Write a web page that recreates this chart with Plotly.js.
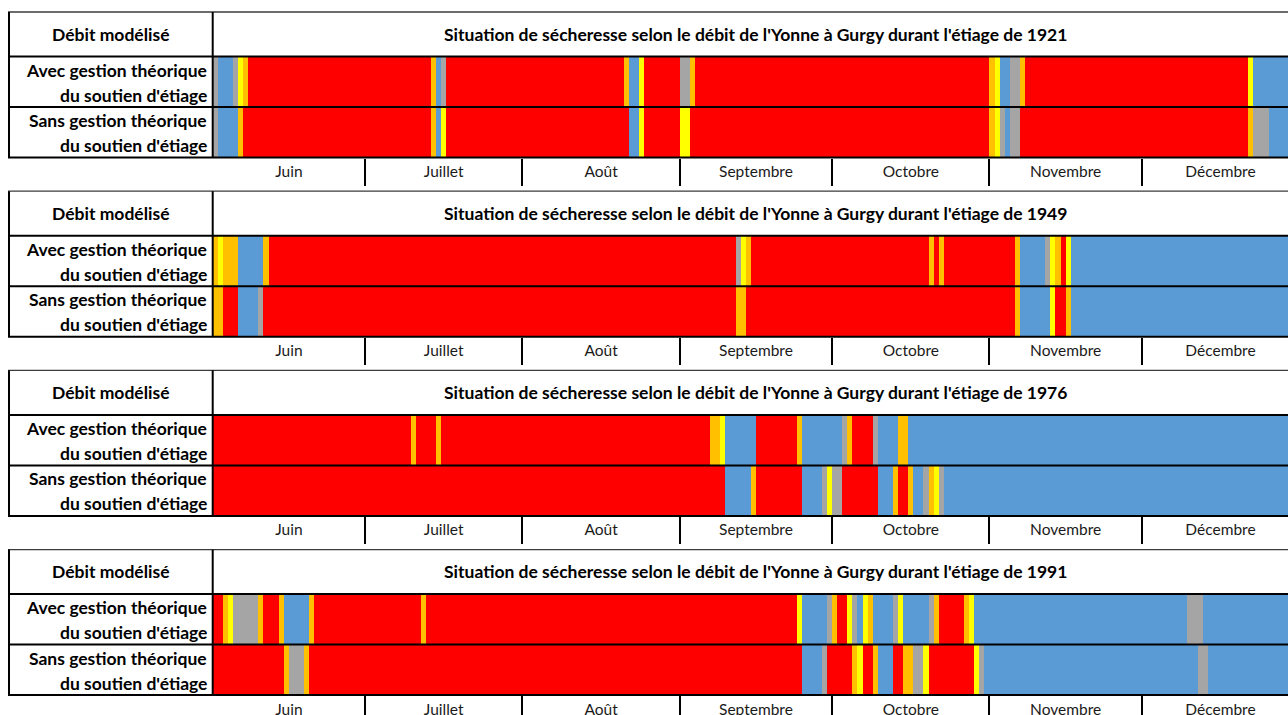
<!DOCTYPE html>
<html><head><meta charset="utf-8">
<script src="https://cdn.plot.ly/plotly-3.0.1.min.js"></script>
<style>html,body{margin:0;padding:0;background:#fff;overflow:hidden}#chart{width:1288px;height:715px}</style>
</head><body><div id="chart"></div>
<script>
// Months (June 1 → December 31) and their lengths in days
const months = ['Juin','Juillet','Août','Septembre','Octobre','Novembre','Décembre'];
const monthDays = [30,31,31,30,31,30,31];
const years = ['1921','1949','1976','1991'];
const headerLeft = 'Débit modélisé';
const titlePrefix = "Situation de sécheresse selon le débit de l'Yonne à Gurgy durant l'étiage de ";
const rowLine1 = ['Avec gestion théorique','Sans gestion théorique'];
const rowLine2 = ["du soutien d'étiage","du soutien d'étiage"];

// Daily drought states as runs: R crise, O alerte renforcée, Y alerte, G vigilance, B normal
const s1921Avec = ['G','B','G','Y','O','R','O','B','G','R','O','B','Y','R','G','O','R','O','Y','B','G','O','R','Y','B'];
const d1921Avec = [1,3,1,1,1,36,1,1,1,35,1,2,1,7,2,1,58,1,1,2,2,1,44,1,9];
const s1921Sans = ['G','B','O','R','O','B','Y','R','B','Y','R','Y','R','O','Y','G','B','G','R','O','G','B'];
const d1921Sans = [1,4,1,37,1,1,1,36,2,1,7,2,59,1,1,1,1,2,45,1,3,6];

const s1949Avec = ['O','Y','O','B','O','R','G','Y','O','R','O','R','O','R','O','B','G','Y','O','R','Y','B'];
const d1949Avec = [1,1,3,5,1,92,1,1,1,35,1,1,1,14,1,5,1,1,1,1,1,45];
const s1949Sans = ['O','R','B','G','R','O','R','O','B','Y','R','O','B'];
const d1949Sans = [2,3,4,1,93,2,53,1,6,1,2,1,45];

const s1976Avec = ['R','O','R','O','R','O','Y','B','R','O','B','G','O','R','G','B','O','B'];
const d1976Avec = [39,1,4,1,53,2,1,6,8,1,8,1,1,4,1,4,2,77];
const s1976Sans = ['R','B','O','R','B','G','Y','G','R','B','O','R','O','B','G','O','Y','G','B'];
const d1976Sans = [101,5,1,9,4,1,1,2,7,3,1,2,1,2,1,1,1,1,70];

const s1991Avec = ['R','O','Y','G','O','R','O','B','O','R','O','R','Y','B','G','O','R','Y','G','B','Y','O','B','G','Y','B','G','O','R','O','Y','B','G','B'];
const d1991Avec = [2,1,1,5,1,3,1,5,1,21,1,73,1,5,1,1,2,1,1,1,1,1,4,1,1,5,1,1,5,1,1,42,3,19];
const s1991Sans = ['R','O','G','O','R','B','G','R','O','Y','R','O','B','R','O','G','Y','R','Y','G','B','G','B'];
const d1991Sans = [14,1,3,1,97,4,1,5,1,1,2,1,3,2,2,2,1,9,1,1,42,2,18];

const panels = [
  [[s1921Avec,d1921Avec],[s1921Sans,d1921Sans]],
  [[s1949Avec,d1949Avec],[s1949Sans,d1949Sans]],
  [[s1976Avec,d1976Avec],[s1976Sans,d1976Sans]],
  [[s1991Avec,d1991Avec],[s1991Sans,d1991Sans]]
];

const COLORS = {R:'#FF0000', O:'#FFC000', Y:'#FFFF00', G:'#A5A5A5', B:'#5B9BD5'};

// ---- layout geometry (pixels) ----
const W = 1288, H = 715;
const leftX = 9, colX = 212.7, pxPerDay = 5.077;
const panelTop0 = 12, panelStep = 179.2;
const hdrH = 44.5, rowH = 50.5;
const px = v => v / W, py = v => 1 - v / H;
const xMax = (W - colX) / pxPerDay;
const fullCenterX = colX + (monthDays.reduce((a,b)=>a+b,0) * pxPerDay) / 2;

// month boundaries & centers from month lengths
const bounds = []; const centers = [];
let acc = 0;
monthDays.forEach((d,i) => { centers.push(acc + d/2); acc += d; if (i < monthDays.length-1) bounds.push(acc); });

const traces = [];
const layout = {
  width: W, height: H, margin:{l:0,r:0,t:0,b:0},
  paper_bgcolor:'#fff', plot_bgcolor:'#fff',
  barmode:'overlay', bargap:0, showlegend:false,
  font:{family:'Lato, "Open Sans", sans-serif', color:'#000'},
  shapes:[], annotations:[]
};

panels.forEach((rows, p) => {
  const T = panelTop0 + p * panelStep;
  const sfx = p === 0 ? '' : String(p + 1);
  rows.forEach(([states, durs], r) => {
    const base = []; let c = 0;
    durs.forEach(d => { base.push(c); c += d; });
    traces.push({
      type:'bar', orientation:'h',
      x: durs, base: base, y: durs.map(() => 1 - r), width: 1,
      marker:{color: states.map(s => COLORS[s]), line:{width:0}},
      xaxis:'x' + sfx, yaxis:'y' + sfx, hoverinfo:'skip'
    });
  });
  layout['xaxis' + sfx] = {
    domain:[px(colX), 1], range:[0, xMax], anchor:'y' + sfx,
    showgrid:false, zeroline:false, showline:false, fixedrange:true,
    tickmode:'array', tickvals: centers, ticktext: months, ticks:'',
    tickfont:{size:15.5, color:'#1a1a1a', family:'Lato, sans-serif'},
    ticklabelstandoff: 3,
    minor:{tickmode:'array', tickvals: bounds, ticks:'outside', ticklen:27, tickwidth:2, tickcolor:'#000', showgrid:false}
  };
  layout['yaxis' + sfx] = {
    domain:[py(T + hdrH + 2*rowH), py(T + hdrH)], range:[-0.5, 1.5], anchor:'x' + sfx,
    showgrid:false, zeroline:false, showline:false, showticklabels:false, ticks:'', fixedrange:true
  };
  // table lines
  const hl = (y, w, col) => layout.shapes.push({type:'line', xref:'paper', yref:'paper', x0:px(leftX-1), x1:1, y0:py(y), y1:py(y), line:{color:col, width:w}});
  const vl = (x) => layout.shapes.push({type:'line', xref:'paper', yref:'paper', x0:px(x), x1:px(x), y0:py(T), y1:py(T + hdrH + 2*rowH), line:{color:'#000', width:2}});
  hl(T, 1.3, '#3a3a3a');
  hl(T + hdrH, 2, '#000');
  hl(T + hdrH + rowH, 2, '#000');
  hl(T + hdrH + 2*rowH, 2, '#000');
  vl(leftX); vl(colX);
  // texts
  const bold = {family:'Lato, sans-serif', size:17.5, color:'#000', weight:'bold'};
  layout.annotations.push({xref:'paper', yref:'paper', x:px((leftX+colX)/2), y:py(T + hdrH/2), text:'<b>' + headerLeft + '</b>', showarrow:false, xanchor:'center', yanchor:'middle', font:bold});
  layout.annotations.push({xref:'paper', yref:'paper', x:px(fullCenterX), y:py(T + hdrH/2), text:'<b>' + titlePrefix + years[p] + '</b>', showarrow:false, xanchor:'center', yanchor:'middle', font:bold});
  [0,1].forEach(r => {
    const top = T + hdrH + r*rowH;
    layout.annotations.push({xref:'paper', yref:'paper', x:px(209), y:py(top + 13.5), text:'<b>' + rowLine1[r] + '</b>', showarrow:false, xanchor:'right', yanchor:'middle', font:bold});
    layout.annotations.push({xref:'paper', yref:'paper', x:px(209), y:py(top + 38.5), text:'<b>' + rowLine2[r] + '</b>', showarrow:false, xanchor:'right', yanchor:'middle', font:bold});
  });
});

Plotly.newPlot('chart', traces, layout, {displayModeBar:false, staticPlot:true});
</script></body></html>
